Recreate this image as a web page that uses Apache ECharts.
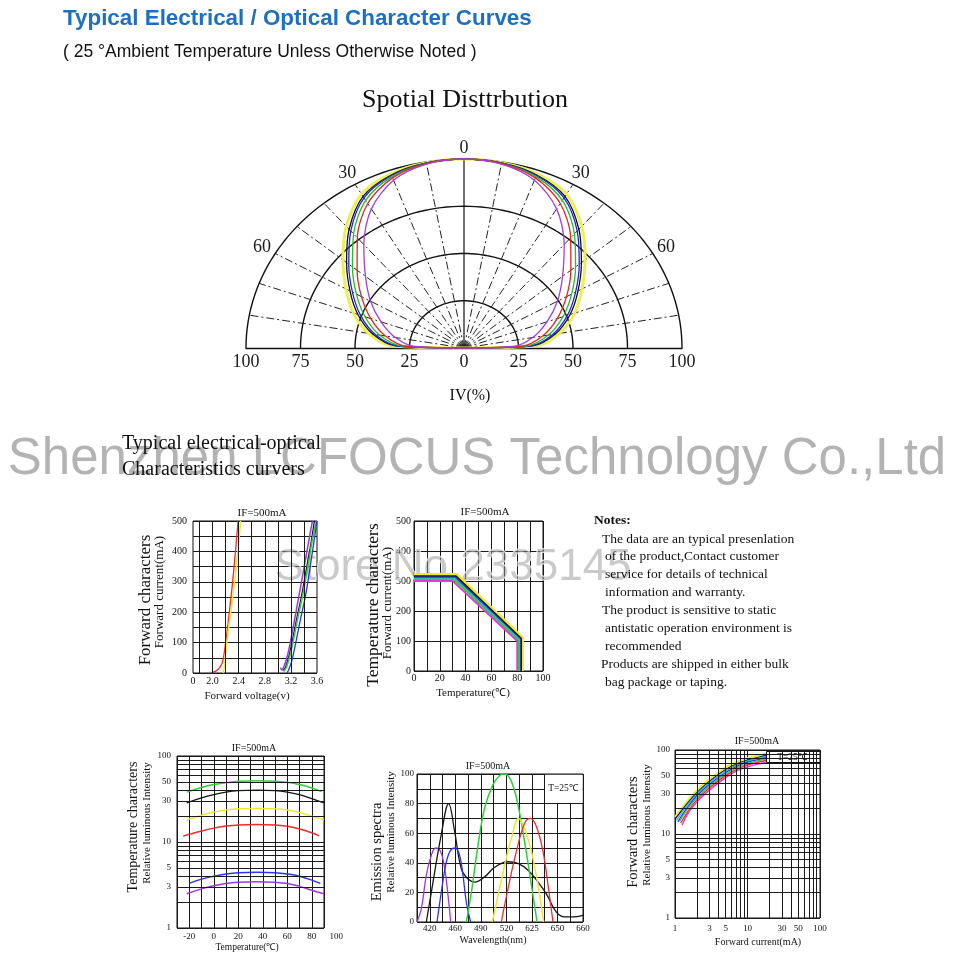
<!DOCTYPE html>
<html>
<head>
<meta charset="utf-8">
<title>Typical Electrical / Optical Character Curves</title>
<script src="https://cdn.jsdelivr.net/npm/echarts@6.0.0/dist/echarts.min.js"></script>
<style>
html, body { margin:0; padding:0; background:#fff; }
#chart { width:960px; height:960px; }
</style>
</head>
<body>
<div id="chart"></div>
<script>
// ================= DATA =================
// Spatial distribution: relative intensity IV(%) vs angle (deg), symmetric
const polarAngles = [0, 10, 20, 30, 40, 50, 60, 70, 80, 88, 90];
const ivYellow = [100, 99.5, 98.0, 94.0, 84.0, 72.5, 62.5, 54.0, 44.5, 33.0, 0];
const ivBlack  = [100, 99.4, 97.4, 92.6, 82.0, 70.3, 60.4, 51.8, 42.5, 31.3, 0];
const ivBlue   = [100, 99.3, 97.1, 91.7, 80.8, 69.0, 59.1, 50.5, 41.3, 30.3, 0];
const ivGreen  = [100, 99.2, 96.5, 90.2, 78.8, 66.8, 57.0, 48.3, 39.3, 28.6, 0];
const ivRed    = [100, 99.1, 95.8, 88.3, 76.1, 64.0, 54.3, 45.5, 36.6, 26.4, 0];
const ivPurple = [100, 98.8, 94.5, 85.0, 71.5, 59.0, 49.5, 40.5, 32.0, 22.6, 0];
const polarRingValues = [25, 50, 75, 100];
const polarSpokeAngles = [-80, -70, -60, -50, -40, -30, -20, -10, 0, 10, 20, 30, 40, 50, 60, 70, 80];
const polarAngleLabels = [-60, -30, 0, 30, 60];

// Forward characters: forward current (mA) vs forward voltage (V) (broken axis, "0" at 1.7)
const vfTickValues = [1.7, 2.0, 2.4, 2.8, 3.2, 3.6];
const vfTickLabels = ['0', '2.0', '2.4', '2.8', '3.2', '3.6'];
const vfGridValues = [1.8, 2.0, 2.2, 2.4, 2.6, 2.8, 3.0, 3.2, 3.4];
const vfRed    = [[1.98,0],[2.05,6],[2.10,15],[2.15,35],[2.185,75],[2.26,206],[2.33,349],[2.39,500]];
const vfYellow = [[2.16,0],[2.18,20],[2.21,86],[2.288,217],[2.365,349],[2.43,500]];
const vfPurple = [[3.04,18],[3.06,10],[3.10,25],[3.15,60],[3.20,110],[3.26,180],[3.32,250],[3.40,345],[3.47,430],[3.53,500]];
const vfBlack  = [[3.08,8],[3.12,20],[3.17,55],[3.23,115],[3.29,180],[3.36,250],[3.44,345],[3.51,430],[3.56,500]];
const vfGreen  = [[3.09,5],[3.13,18],[3.19,60],[3.25,120],[3.31,185],[3.385,260],[3.46,350],[3.53,440],[3.59,500]];
const vfBlue   = [[3.14,0],[3.17,12],[3.22,45],[3.28,105],[3.35,180],[3.425,255],[3.51,370],[3.60,500]];

// Temperature characters: forward current (mA) vs temperature (°C)
const tcYellow  = [[0,322],[33,322],[84,111],[84,0]];
const tcBlack   = [[0,316],[32.5,316],[83,109],[83,0]];
const tcBlue    = [[0,312],[32,312],[82,107],[82,0]];
const tcCyan    = [[0,308],[31.5,308],[81.5,105],[81.5,0]];
const tcGreen   = [[0,305],[31,305],[81,103],[81,0]];
const tcMagenta = [[0,300],[30,300],[80,100],[80,0]];

// Temperature characters: relative luminous intensity vs temperature (°C)
const tempTickLabels = [-20, 0, 20, 40, 60, 80, 100];
const ltGreen  = [[-22,38],[-10,43],[0,46.5],[10,49],[20,50.8],[35,51.5],[50,51],[60,49.5],[70,46.5],[80,42.5],[88,38.5]];
const ltBlack  = [[-22,28.5],[-10,32.5],[0,35.5],[10,38],[20,39.5],[35,40.2],[50,39.5],[60,38],[70,35.5],[80,32],[90,28.5]];
const ltYellow = [[-22,18],[-10,20.5],[0,22.3],[10,23.6],[20,24.3],[35,24.6],[50,24.3],[60,23.5],[70,22],[80,20],[90,18]];
const ltRed    = [[-25,11.7],[-10,13.4],[0,14.5],[10,15.3],[20,15.8],[35,16],[50,15.8],[60,15.2],[70,14.2],[80,12.8],[86,11.8]];
const ltBlue   = [[-20,3.3],[-10,3.7],[0,4.0],[10,4.25],[20,4.4],[35,4.45],[50,4.4],[60,4.25],[70,4.0],[80,3.6],[87,3.3]];
const ltPurple = [[-22,2.5],[-10,2.85],[0,3.1],[10,3.3],[20,3.4],[35,3.45],[50,3.4],[60,3.3],[70,3.05],[80,2.75],[90,2.5]];

// Log axes
const logTickLabels = [1, 3, 5, 10, 30, 50, 100];
const logMinorValues = [2, 3, 4, 5, 6, 7, 8, 9, 20, 30, 40, 50, 60, 70, 80, 90];

// Emission spectra: relative intensity vs wavelength gridline position (labelled lines below)
const spectraTicks = ['', '420', '', '460', '', '490', '', '520', '', '625', '', '650', '', '660'];
const spPurple = [[0,0],[0.34,9],[0.73,31.7],[1.12,45],[1.46,50],[1.85,47.5],[2.17,36],[2.43,18],[2.64,0]];
const spBlack  = [[0.73,0],[1.12,20],[1.9,59],[2.48,80],[2.95,61],[3.47,36],[4.0,29],[4.52,27],[5.3,30.5],[6.08,37],[7.13,40.7],[7.9,39.6],[8.7,35],[9.48,27],[10.13,19],[10.9,6.8],[11.57,3.4],[12.2,3.4],[13,4.5]];
const spBlue   = [[1.57,0],[1.9,20],[2.3,40.7],[2.64,48.6],[3.0,50],[3.34,45],[3.6,31.7],[3.86,13.6],[4.2,0]];
const spGreen  = [[3.86,0],[4.26,20],[4.78,52],[5.3,77],[5.95,92.8],[6.47,99],[6.87,100],[7.39,95],[7.91,79],[8.43,54],[8.96,25],[9.4,0]];
const spYellow = [[5.9,0],[6.35,18],[6.87,38.5],[7.39,56.6],[7.96,70],[8.43,63],[8.96,47.5],[9.48,25],[9.92,0]];
const spRed    = [[6.6,0],[7.13,22.6],[7.78,47.5],[8.43,66.7],[8.88,70],[9.35,64.5],[9.87,47.5],[10.26,25],[10.65,0]];

// Forward characters: relative luminous intensity vs forward current (mA)
const fcYellow  = [[1,16],[1.5,25],[2,33],[3,45],[5,62],[7,72],[10,80],[15,87],[18,90]];
const fcBlack   = [[1,15],[1.5,23.5],[2,31],[3,42.5],[5,58.5],[7,68],[10,76],[15,83],[18,86]];
const fcCyan    = [[1.05,14.5],[1.5,22.5],[2,30],[3,41],[5,56.5],[7,66],[10,74],[15,81],[18,84]];
const fcBlue    = [[1.1,14],[1.5,21],[2,28.5],[3,39],[5,54],[7,63.5],[10,71.5],[15,78],[18,81]];
const fcGreen   = [[1.15,14],[1.5,20],[2,27],[3,37.5],[5,52],[7,61],[10,69],[15,75.5],[18,78]];
const fcRed     = [[1.2,13.5],[1.5,18.5],[2,25.5],[3,35.5],[5,49.5],[7,58.5],[10,66],[15,72.5],[18,75]];
const fcMagenta = [[1.25,12.7],[1.5,17.5],[2,24],[3,33.5],[5,47],[7,56],[10,63],[15,69],[18,71]];

const notesLines = [
  'The data are an typical presenlation',
  'of the product,Contact customer',
  'service for details of technical',
  'information and warranty.',
  'The product is sensitive to static',
  'antistatic operation environment is',
  'recommended',
  'Products are shipped in either bulk',
  'bag package or taping.'
];

// ================= STYLE / BUILD =================
const SERIF = '"Liberation Serif", "Times New Roman", serif';
const SANS = '"Liberation Sans", Arial, sans-serif';
const COL = {
  yellow: '#ecea2c', black: '#151515', blue: '#2b33ee', green: '#2fcf3a',
  red: '#ee2b2b', purple: '#9d36e6', magenta: '#e23ad0', cyan: '#2fb9e3'
};
const GRIDLINE = '#1a1a1a';

const grids = [], xAxes = [], yAxes = [], series = [];

function tickFont(size) { return { fontFamily: SERIF, fontSize: size, color: '#111' }; }
function labelFor(v, vals, labels) {
  for (let i = 0; i < vals.length; i++) if (Math.abs(v - vals[i]) < 1e-6) return labels[i];
  return '';
}
function curve(gi, data, color, width, smooth) {
  series.push({ type: 'line', xAxisIndex: gi, yAxisIndex: gi, data, symbol: 'none', smooth: smooth || false,
    lineStyle: { color, width }, z: 3, silent: true, animation: false });
}
function minorLines(gi, axis, values, anchor) {
  series.push({ type: 'line', xAxisIndex: gi, yAxisIndex: gi, data: [anchor], symbol: 'none',
    lineStyle: { opacity: 0 }, z: 1, silent: true, animation: false,
    markLine: { silent: true, symbol: ['none', 'none'], label: { show: false }, animation: false,
      lineStyle: { color: GRIDLINE, width: 1, type: 'solid' }, emphasis: { disabled: true },
      data: values.map(v => axis === 'x' ? { xAxis: v } : { yAxis: v }) } });
}
function addGrid(box) {
  grids.push(Object.assign({ show: true, borderColor: '#111', borderWidth: 1, backgroundColor: '#fff', outerBoundsMode: 'none' }, box));
  return grids.length - 1;
}
const SPLIT = { show: true, lineStyle: { color: GRIDLINE, width: 1 } };
const NOAX = { axisLine: { show: false }, axisTick: { show: false } };

// ---------- Grid 0 : spatial distribution ----------
grids.push({ left: 246, top: 159, width: 436, height: 189, show: false, outerBoundsMode: 'none' });
xAxes.push({ gridIndex: 0, type: 'value', min: -100, max: 100, interval: 25,
  axisLine: { show: true, onZero: false, lineStyle: { color: '#111', width: 1.4 } },
  axisTick: { show: false }, splitLine: { show: false },
  axisLabel: { formatter: v => String(Math.abs(v)), fontFamily: SERIF, fontSize: 18, color: '#1a1a1a', margin: 5 } });
yAxes.push({ gridIndex: 0, type: 'value', min: 0, max: 100, show: false });

function toXY(deg, r) { const t = deg * Math.PI / 180; return [r * Math.sin(t), r * Math.cos(t)]; }
const arcSteps = [];
for (let a = -90; a <= 90; a += 2) arcSteps.push(a);
polarRingValues.forEach(r => series.push({ type: 'line', xAxisIndex: 0, yAxisIndex: 0, symbol: 'none', silent: true,
  data: arcSteps.map(a => toXY(a, r)), lineStyle: { color: '#111', width: 1.4 }, z: 2, animation: false }));
polarSpokeAngles.forEach(a => series.push({ type: 'line', xAxisIndex: 0, yAxisIndex: 0, symbol: 'none', silent: true,
  data: [toXY(a, 0), toXY(a, 100)],
  lineStyle: { color: '#222', width: a === 0 ? 1.3 : 1, type: a === 0 ? 'solid' : [8, 3, 2, 3] }, z: 2, animation: false }));
function polarPoints(vals) {
  const pts = [];
  for (let i = polarAngles.length - 1; i >= 0; i--) pts.push(toXY(-polarAngles[i], vals[i]));
  for (let i = 1; i < polarAngles.length; i++) pts.push(toXY(polarAngles[i], vals[i]));
  return pts;
}
curve(0, polarPoints(ivYellow), '#eeee55', 3, 0.3);
curve(0, polarPoints(ivBlack), '#111', 1.3, 0.3);
curve(0, polarPoints(ivBlue), '#2424e6', 1.3, 0.3);
curve(0, polarPoints(ivGreen), '#22c022', 1.3, 0.3);
curve(0, polarPoints(ivRed), '#e52222', 1.3, 0.3);
curve(0, polarPoints(ivPurple), '#a040e0', 1.3, 0.3);

// ---------- Grid 1 : forward characters (I-V) ----------
let gi = addGrid({ left: 193, top: 521, width: 124, height: 152 });
xAxes.push(Object.assign({ gridIndex: gi, type: 'value', min: 1.7, max: 3.6, interval: 0.1, splitLine: { show: false },
  axisLabel: Object.assign(tickFont(10), { margin: 3, formatter: v => labelFor(v, vfTickValues, vfTickLabels) }) }, NOAX));
yAxes.push(Object.assign({ gridIndex: gi, type: 'value', min: 0, max: 500, interval: 50, splitLine: SPLIT,
  axisLabel: Object.assign(tickFont(10), { margin: 6, formatter: v => (v % 100 === 0 ? String(v) : '') }) }, NOAX));
minorLines(gi, 'x', vfGridValues, [2.0, 0]);
curve(gi, vfRed, COL.red, 1.3, 0.3);
curve(gi, vfYellow, COL.yellow, 1.5, 0.3);
curve(gi, vfPurple, COL.purple, 1.5, 0.3);
curve(gi, vfBlack, COL.black, 1.3, 0.3);
curve(gi, vfGreen, COL.green, 1.5, 0.3);
curve(gi, vfBlue, COL.blue, 1.3, 0.3);

// ---------- Grid 2 : temperature characters (current) ----------
gi = addGrid({ left: 414, top: 521, width: 129, height: 150 });
xAxes.push(Object.assign({ gridIndex: gi, type: 'value', min: 0, max: 100, interval: 10, splitLine: SPLIT,
  axisLabel: Object.assign(tickFont(10), { margin: 2, formatter: v => (v % 20 === 0 ? String(v) : '') }) }, NOAX));
yAxes.push(Object.assign({ gridIndex: gi, type: 'value', min: 0, max: 500, interval: 100, splitLine: SPLIT,
  axisLabel: Object.assign(tickFont(10), { margin: 3 }) }, NOAX));
curve(gi, tcYellow, COL.yellow, 3);
curve(gi, tcBlack, COL.black, 1.8);
curve(gi, tcBlue, COL.blue, 1.8);
curve(gi, tcCyan, COL.cyan, 1.8);
curve(gi, tcGreen, COL.green, 1.8);
curve(gi, tcMagenta, COL.magenta, 1.8);

// ---------- Grid 3 : temperature characters (luminous) ----------
gi = addGrid({ left: 177, top: 756, width: 147, height: 172 });
const gTemp = gi;
xAxes.push(Object.assign({ gridIndex: gi, type: 'value', min: -30, max: 90, interval: 10, splitLine: SPLIT,
  axisLabel: Object.assign(tickFont(9), { margin: 4, formatter: v => (tempTickLabels.indexOf(v) >= 0 ? String(v) : '') }) }, NOAX));
yAxes.push(Object.assign({ gridIndex: gi, type: 'log', logBase: 10, min: 1, max: 100, splitLine: SPLIT,
  axisLabel: Object.assign(tickFont(9), { margin: 6, customValues: logTickLabels }) }, NOAX));
minorLines(gi, 'y', logMinorValues, [0, 2]);
curve(gi, ltGreen, COL.green, 1.5, 0.4);
curve(gi, ltBlack, COL.black, 1.3, 0.4);
curve(gi, ltYellow, COL.yellow, 1.5, 0.4);
curve(gi, ltRed, COL.red, 1.5, 0.4);
curve(gi, ltBlue, COL.blue, 1.5, 0.4);
curve(gi, ltPurple, COL.purple, 1.5, 0.4);

// ---------- Grid 4 : emission spectra ----------
gi = addGrid({ left: 417, top: 774, width: 166, height: 148 });
xAxes.push(Object.assign({ gridIndex: gi, type: 'value', min: 0, max: 13, interval: 1, splitLine: SPLIT,
  axisLabel: Object.assign(tickFont(9), { margin: 2, formatter: v => spectraTicks[Math.round(v)] || '' }) }, NOAX));
yAxes.push(Object.assign({ gridIndex: gi, type: 'value', min: 0, max: 100, interval: 10, splitLine: SPLIT,
  axisLabel: Object.assign(tickFont(9), { margin: 3, formatter: v => (v % 20 === 0 ? String(v) : '') }) }, NOAX));
curve(gi, spPurple, COL.purple, 1.3, 0.4);
curve(gi, spBlack, COL.black, 1.3, 0.4);
curve(gi, spBlue, COL.blue, 1.3, 0.4);
curve(gi, spGreen, COL.green, 1.5, 0.4);
curve(gi, spYellow, COL.yellow, 1.5, 0.4);
curve(gi, spRed, COL.red, 1.3, 0.4);

// ---------- Grid 5 : forward characters (luminous) ----------
gi = addGrid({ left: 675, top: 750, width: 145, height: 168 });
xAxes.push(Object.assign({ gridIndex: gi, type: 'log', logBase: 10, min: 1, max: 100, splitLine: SPLIT,
  axisLabel: Object.assign(tickFont(9), { margin: 6, customValues: logTickLabels }) }, NOAX));
yAxes.push(Object.assign({ gridIndex: gi, type: 'log', logBase: 10, min: 1, max: 100, splitLine: SPLIT,
  axisLabel: Object.assign(tickFont(9), { margin: 5, customValues: logTickLabels }) }, NOAX));
minorLines(gi, 'x', logMinorValues, [2, 2]);
minorLines(gi, 'y', logMinorValues, [2, 2]);
curve(gi, fcYellow, COL.yellow, 2, 0.4);
curve(gi, fcBlack, COL.black, 1.3, 0.4);
curve(gi, fcCyan, COL.cyan, 1.3, 0.4);
curve(gi, fcBlue, COL.blue, 1.3, 0.4);
curve(gi, fcGreen, COL.green, 1.3, 0.4);
curve(gi, fcRed, COL.red, 1.3, 0.4);
curve(gi, fcMagenta, COL.magenta, 1.5, 0.4);

// ---------- Texts ----------
function T(x, y, text, font, o) {
  o = o || {};
  const align = o.align || 'center';
  return { type: 'text', x, y, rotation: o.rot || 0, z: o.z || 10, silent: true,
    style: { text, font, fill: o.fill || '#111', align, textAlign: align,
      verticalAlign: 'middle', textVerticalAlign: 'middle',
      stroke: o.stroke || null, lineWidth: o.lw || 0 } };
}
const f = (size, fam, weight) => `${weight || 'normal'} ${size}px ${fam || SERIF}`;
const ROT = Math.PI / 2;
const graphics = [
  T(63, 19, 'Typical Electrical / Optical Character Curves', f(22.4, SANS, 'bold'), { align: 'left', fill: '#1d70c1' }),
  T(63, 52, '( 25 °Ambient Temperature Unless Otherwise Noted )', f(17.5, SANS), { align: 'left', fill: '#111' }),
  T(465, 100, 'Spotial Disttrbution', f(26)),
  T(470, 396, 'IV(%)', f(16)),
  T(122, 444, 'Typical electrical-optical', f(20), { align: 'left' }),
  T(122, 470, 'Characteristics curvers', f(20), { align: 'left' }),
  // chart A
  T(262, 513, 'IF=500mA', f(11)),
  T(146, 600, 'Forward characters', f(17), { rot: ROT }),
  T(160, 592, 'Forward current(mA)', f(13), { rot: ROT }),
  T(247, 696, 'Forward voltage(v)', f(11)),
  // chart B
  T(485, 512, 'IF=500mA', f(11)),
  T(373, 605, 'Temperature characters', f(17.5), { rot: ROT }),
  T(388, 603, 'Forward current(mA)', f(13), { rot: ROT }),
  T(473, 693, 'Temperature(℃)', f(11)),
  // notes
  T(594, 521, 'Notes:', f(13.5, SERIF, 'bold'), { align: 'left' }),
  // chart C
  T(254, 748, 'IF=500mA', f(10)),
  T(133, 827, 'Temperature characters', f(14), { rot: ROT }),
  T(147, 823, 'Relative luminous Intensity', f(11), { rot: ROT }),
  T(247, 947, 'Temperature(℃)', f(9.5)),
  // chart D
  T(488, 766, 'IF=500mA', f(10)),
  T(377, 852, 'Emission spectra', f(14.5), { rot: ROT }),
  T(391, 832, 'Relative luminous Intensity', f(11), { rot: ROT }),
  T(493, 940, 'Wavelength(nm)', f(10)),
  { type: 'rect', shape: { x: 545, y: 774.8, width: 37.6, height: 28.2 }, style: { fill: '#fff' }, z: 4, silent: true },
  T(563, 788, 'T=25℃', f(9.5)),
  // chart E
  T(757, 741, 'IF=500mA', f(10)),
  T(633, 832, 'Forward characters', f(14.5), { rot: ROT }),
  T(647, 825, 'Relative luminous Intensity', f(11), { rot: ROT }),
  T(758, 942, 'Forward current(mA)', f(10)),
  { type: 'rect', shape: { x: 766.5, y: 751.5, width: 53.5, height: 11 }, style: { fill: '#fff', stroke: '#111', lineWidth: 1 }, z: 4, silent: true },
  T(792, 757, 'T=25℃', f(9.5)),
  // watermarks
  T(477, 460, 'Shenzhen LCFOCUS Technology Co.,Ltd', f(51, SANS), { fill: 'rgba(150,150,150,0.72)', stroke: 'rgba(255,255,255,0.95)', lw: 1.5, z: 5 }),
  T(453, 568, 'Store No.2335145', f(44, SANS), { fill: 'rgba(150,150,150,0.5)', stroke: 'rgba(255,255,255,0.85)', lw: 1.5, z: 2.5 })
];
const notesX = [602, 605, 605, 605, 602, 605, 605, 601, 605];
notesLines.forEach((line, i) => graphics.push(T(notesX[i], 539 + i * 17.9, line, f(13.5), { align: 'left' })));

const chart = echarts.init(document.getElementById('chart'), null, { renderer: 'canvas' });
chart.setOption({
  animation: false,
  backgroundColor: '#fff',
  textStyle: { fontFamily: SERIF },
  grid: grids,
  xAxis: xAxes,
  yAxis: yAxes,
  series: series,
  graphic: graphics
});
// angle labels of the spatial-distribution chart, placed through the grid's own scale
polarAngleLabels.forEach(a => {
  const p = chart.convertToPixel({ gridIndex: 0 }, toXY(a, a === 0 ? 105.5 : 107));
  if (p) graphics.push(T(p[0], p[1], String(Math.abs(a)), f(18), { fill: '#1a1a1a' }));
});
// label "100" beyond the right edge of the temperature/luminous grid
const lastTemp = tempTickLabels[tempTickLabels.length - 1];
const p100 = chart.convertToPixel({ gridIndex: gTemp }, [lastTemp, 1]);
if (p100) graphics.push(T(p100[0], p100[1] + 9, String(lastTemp), f(9)));
chart.setOption({ graphic: graphics });
</script>
</body>
</html>
